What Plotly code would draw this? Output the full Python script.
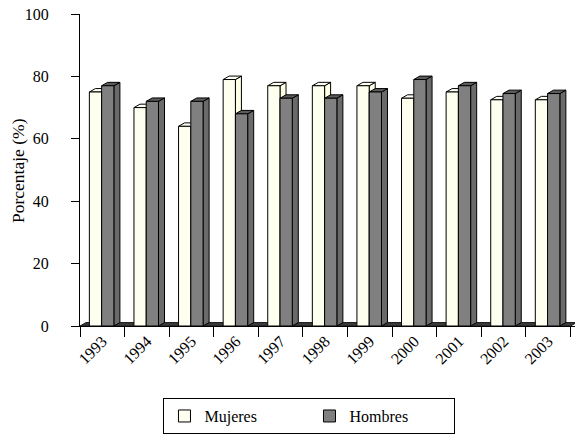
import plotly.graph_objects as go

years = ["1993", "1994", "1995", "1996", "1997", "1998", "1999", "2000", "2001", "2002", "2003"]
mujeres = [75, 70, 64, 79, 77, 77, 77, 73, 75, 72.5, 72.5]
hombres = [77, 72, 72, 68, 73, 73, 75, 79, 77, 74.5, 74.5]

BAR_W = 0.275
OFF_M = 0.21
OFF_H = OFF_M + BAR_W
DX = 0.135
DY = 1.1
FONT = "Liberation Serif"


def faces(values, offset):
    fx, fy, tx, ty, sx, sy = [], [], [], [], [], []
    for i, v in enumerate(values):
        x0 = i + offset
        x1 = x0 + BAR_W
        fx += [x0, x1, x1, x0, x0, None]
        fy += [0, 0, v, v, 0, None]
        tx += [x0, x0 + DX, x1 + DX, x1, x0, None]
        ty += [v, v + DY, v + DY, v, v, None]
        sx += [x1, x1 + DX, x1 + DX, x1, x1, None]
        sy += [0, DY, v + DY, v, 0, None]
    return (fx, fy), (tx, ty), (sx, sy)


def poly(xy, color, width=1):
    return go.Scatter(x=xy[0], y=xy[1], mode="lines", fill="toself", fillcolor=color,
                      line=dict(color="black", width=width), showlegend=False,
                      hoverinfo="skip", connectgaps=False)


fig = go.Figure()
n = len(years)
# floor
fig.add_trace(go.Scatter(x=[0, n, n + DX, DX, 0], y=[0, 0, DY, DY, 0], mode="lines",
                         fill="toself", fillcolor="#3a3a3a", line=dict(color="#1a1a1a", width=1),
                         showlegend=False, hoverinfo="skip"))

series = [
    ("Mujeres", mujeres, OFF_M, "#FFFFF0", "#FFFFF8", "#FFFFE6"),
    ("Hombres", hombres, OFF_H, "#808080", "#5c5c5c", "#6a6a6a"),
]
for name, vals, off, cf, ct, cs in series:
    f, t, s = faces(vals, off)
    fig.add_trace(poly(s, cs))
    fig.add_trace(poly(t, ct))
    fig.add_trace(poly(f, cf))

# legend entries
for name, vals, off, cf, ct, cs in series:
    fig.add_trace(go.Bar(x=[None], y=[None], name=name,
                         marker=dict(color=cf, line=dict(color="black", width=1)),
                         showlegend=True))

fig.update_layout(
    width=576, height=445,
    margin=dict(l=80, r=1, t=14, b=119),
    plot_bgcolor="white", paper_bgcolor="white",
    font=dict(family=FONT, size=16, color="black"),
    xaxis=dict(range=[0, n + 0.1], tickvals=list(range(n + 1)), ticks="outside", ticklen=10,
               tickcolor="black", showticklabels=False, showgrid=False, zeroline=False,
               showline=True, linecolor="black", linewidth=1, automargin=False),
    xaxis2=dict(overlaying="x", matches="x", side="bottom", range=[0, n + 0.1],
                tickvals=[i + 0.5 for i in range(n)], ticktext=years, tickangle=-45,
                ticks="", showgrid=False, zeroline=False, showline=False, automargin=False,
                ticklabelstandoff=2, ticklabeloverflow="allow",
                tickfont=dict(family=FONT, size=16, color="black")),
    yaxis=dict(range=[0, 100], tickvals=[0, 20, 40, 60, 80, 100], ticks="outside", ticklen=8,
               tickcolor="black", showgrid=False, zeroline=False, showline=True, automargin=False,
               linecolor="black", linewidth=1, ticklabelstandoff=19, ticklabeloverflow="allow",
               tickfont=dict(family=FONT, size=16, color="black")),
    legend=dict(orientation="h", x=0.4636, xanchor="center", y=-0.231, yanchor="top",
                bordercolor="black", borderwidth=1, font=dict(family=FONT, size=16),
                entrywidth=100, traceorder="normal"),
    showlegend=True,
)
fig.add_annotation(text="Porcentaje (%)", textangle=-90, xref="paper", yref="paper",
                   x=-0.1253, y=0.5, xanchor="center", yanchor="middle", showarrow=False,
                   font=dict(family=FONT, size=17.5, color="black"))
fig.add_trace(go.Scatter(x=[0.5], y=[None], xaxis="x2", showlegend=False, hoverinfo="skip"))

fig.write_html("out.html", config={"displayModeBar": False},
               post_script="document.body.style.margin='0';")
